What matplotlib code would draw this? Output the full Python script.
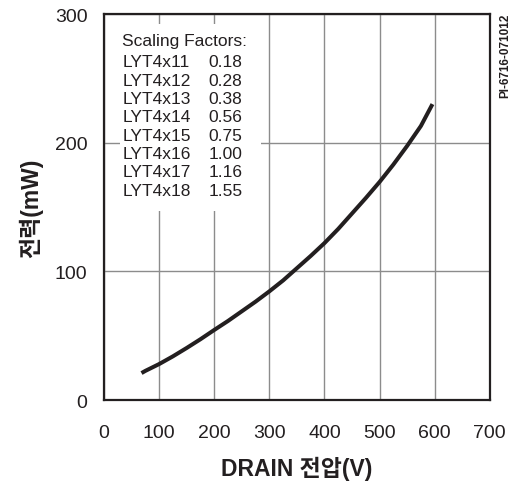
import matplotlib
matplotlib.use("Agg")
import matplotlib.pyplot as plt
from matplotlib.patches import Rectangle

plt.rcParams['font.family'] = ['Liberation Sans', 'Noto Sans CJK KR']

# 곡선 데이터
voltage = [68, 75, 100, 125, 150, 175, 200, 225, 250, 275, 300, 325,
           350, 375, 400, 425, 450, 475, 500, 525, 550, 575, 596]
power = [21, 22.7, 28, 34, 40.5, 47.3, 54.5, 61.5, 69, 76.5, 84.5, 93,
         102.5, 112, 122, 133, 145, 157, 169.5, 183, 197.5, 213, 230]

x_ticks = [0, 100, 200, 300, 400, 500, 600, 700]
y_ticks = [0, 100, 200, 300]

parts = ['LYT4x11', 'LYT4x12', 'LYT4x13', 'LYT4x14',
         'LYT4x15', 'LYT4x16', 'LYT4x17', 'LYT4x18']
factors = ['0.18', '0.28', '0.38', '0.56', '0.75', '1.00', '1.16', '1.55']

ink = '#231f20'

fig = plt.figure(figsize=(5.15, 4.85), dpi=100)
ax = fig.add_axes([0.202, 0.173, 0.749, 0.796])

ax.set_xlim(0, 700)
ax.set_ylim(0, 300)
ax.set_xticks(x_ticks)
ax.set_yticks(y_ticks)
ax.grid(True, color='#8c8c8c', linewidth=1.0)
ax.set_axisbelow(True)
ax.tick_params(length=0, labelsize=14, colors=ink)
ax.tick_params(axis='y', pad=12)
ax.tick_params(axis='x', pad=17)
for s in ax.spines.values():
    s.set_linewidth(1.6)
    s.set_color(ink)

ax.plot(voltage, power, color=ink, linewidth=2.9, solid_capstyle='butt', zorder=3)

# 스케일링 팩터 박스 (흰 배경이 격자를 가림)
ax.add_patch(Rectangle((0.041, 0.49), 0.366, 0.484, transform=ax.transAxes,
                       facecolor='white', edgecolor='none', zorder=2))
ax.text(0.047, 0.931, 'Scaling Factors:', transform=ax.transAxes,
        fontsize=12.5, color=ink, va='center', zorder=4)
for i in range(len(parts)):
    yy = 0.876 - i * 0.0474
    ax.text(0.047, yy, parts[i], transform=ax.transAxes,
            fontsize=12.5, color=ink, va='center', zorder=4)
    ax.text(0.27, yy, factors[i], transform=ax.transAxes,
            fontsize=12.5, color=ink, va='center', zorder=4)

ax.set_xlabel('DRAIN 전압(V)', fontsize=16.5, fontweight='bold', color=ink, labelpad=11)
ax.set_ylabel('전력(mW)', fontsize=16.5, fontweight='bold', color=ink, labelpad=8)

fig.text(0.982, 0.971, 'PI-6716-071012', rotation=90, fontsize=8.5,
         fontweight='bold', color=ink, ha='center', va='top')

fig.savefig('out.png', dpi=100)
